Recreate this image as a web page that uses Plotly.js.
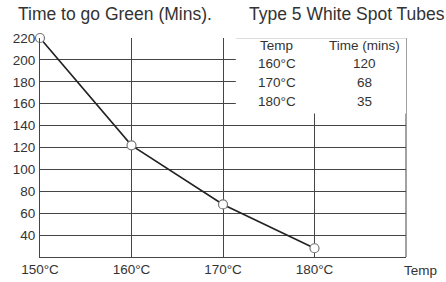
<!DOCTYPE html>
<html><head><meta charset="utf-8">
<script src="https://cdn.plot.ly/plotly-3.0.1.min.js"></script>
<style>html,body{margin:0;padding:0;background:#fff;}#c{width:446px;height:282px;}</style>
</head><body><div id="c"></div>
<script>
const temps = [150, 160, 170, 180];
const timesPlotted = [220, 122, 68, 28];
const tableTemps = ['160°C', '170°C', '180°C'];
const tableTimes = ['120', '68', '35'];
const xTickVals = [150, 160, 170, 180];
const xTickText = ['150°C', '160°C', '170°C', '180°C'];
const yTickVals = [40, 60, 80, 100, 120, 140, 160, 180, 200, 220];

const lineCol = '#444';
const txtCol = '#333';
const fam = 'Liberation Sans, Arial, sans-serif';
const fnt = {family: fam, size: 13.5, color: txtCol};

const trace = {
  x: temps, y: timesPlotted, type: 'scatter', mode: 'lines+markers',
  line: {color: '#222', width: 1.6},
  marker: {symbol: 'circle', size: 9, color: '#fff', line: {color: '#777', width: 1.2}},
  cliponaxis: false, hoverinfo: 'skip'
};

const annotations = [
  {xref: 'paper', yref: 'paper', x: -0.066, y: 1.055, xanchor: 'left', yanchor: 'bottom', showarrow: false,
   text: 'Time to go Green (Mins).', font: {family: fam, size: 17.5, color: txtCol}},
  {xref: 'paper', yref: 'paper', x: 1.112, y: 1.055, xanchor: 'right', yanchor: 'bottom', showarrow: false,
   text: 'Type 5 White Spot Tubes', font: {family: fam, size: 17.5, color: txtCol}},
  {xref: 'paper', yref: 'paper', x: 1.04, y: -0.017, xanchor: 'center', yanchor: 'top', showarrow: false,
   text: 'Temp', font: fnt},
  {xref: 'x', yref: 'y', x: 175.9, y: 213, xanchor: 'center', yanchor: 'middle', showarrow: false,
   text: 'Temp', font: fnt},
  {xref: 'x', yref: 'y', x: 185.5, y: 213, xanchor: 'center', yanchor: 'middle', showarrow: false,
   text: 'Time (mins)', font: fnt}
];
const rowYs = [197, 179, 162];
tableTemps.forEach((t, i) => {
  annotations.push({xref: 'x', yref: 'y', x: 175.9, y: rowYs[i], xanchor: 'center', yanchor: 'middle', showarrow: false, text: t, font: fnt});
  annotations.push({xref: 'x', yref: 'y', x: 185.5, y: rowYs[i], xanchor: 'center', yanchor: 'middle', showarrow: false, text: tableTimes[i], font: fnt});
});

const layout = {
  width: 446, height: 282,
  margin: {l: 40, r: 40, t: 38, b: 25},
  paper_bgcolor: '#fff', plot_bgcolor: '#fff',
  showlegend: false,
  xaxis: {range: [150, 190], tickvals: xTickVals, ticktext: xTickText, showgrid: true, gridcolor: lineCol, gridwidth: 1,
          zeroline: false, showline: true, linecolor: lineCol, linewidth: 1, mirror: false, ticks: '', tickfont: fnt, fixedrange: true},
  yaxis: {range: [20, 220], tickvals: yTickVals, showgrid: true, gridcolor: lineCol, gridwidth: 1,
          zeroline: false, showline: true, linecolor: lineCol, linewidth: 1, ticks: '', tickfont: fnt, ticklabelstandoff: 1, fixedrange: true},
  shapes: [
    {type: 'rect', xref: 'x', yref: 'y', x0: 171.4, x1: 190, y0: 151, y1: 222, fillcolor: '#fff', line: {width: 0}, layer: 'between'},
    {type: 'line', xref: 'x', yref: 'y', x0: 171.4, x1: 190, y0: 220, y1: 220, line: {color: '#bbb', width: 1}, layer: 'between'},
    {type: 'line', xref: 'paper', yref: 'paper', x0: 1, x1: 1, y0: 0, y1: 1, line: {color: lineCol, width: 1}, layer: 'between'}
  ],
  annotations: annotations
};
Plotly.newPlot('c', [trace], layout, {staticPlot: true, displayModeBar: false});
</script>
</body></html>
